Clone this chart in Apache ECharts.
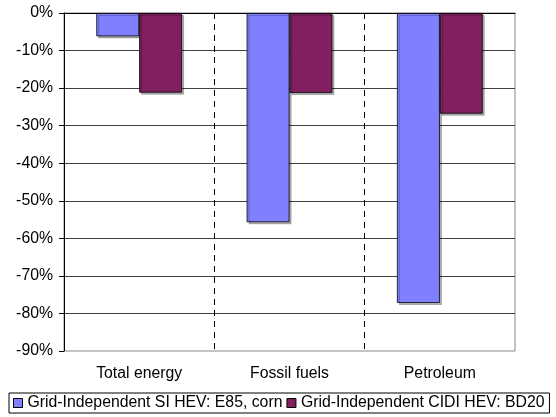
<!DOCTYPE html>
<html>
<head>
<meta charset="utf-8">
<script src="https://cdn.jsdelivr.net/npm/echarts@6/dist/echarts.min.js"></script>
<style>
  html, body { margin: 0; padding: 0; background: #fff; }
  #chart { width: 556px; height: 417px; }
</style>
</head>
<body>
<div id="chart"></div>
<script>
// Change in energy use relative to the baseline vehicle, in percent
const categories = ['Total energy', 'Fossil fuels', 'Petroleum'];
const siHevE85Corn = [-6.2, -55.7, -77.2];
const cidiHevBd20 = [-21.2, -21.3, -26.8];
const seriesNames = ['Grid-Independent SI HEV: E85, corn', 'Grid-Independent CIDI HEV: BD20'];
const yMin = -90, yMax = 0, yStep = 10;

const FONT = 'Liberation Sans, Arial, sans-serif';
const FS = 15.8;
const barShadow = {
  borderColor: '#000', borderWidth: 0.8,
  shadowColor: 'rgba(0,0,0,0.3)', shadowOffsetX: 2, shadowOffsetY: 2, shadowBlur: 0
};

const chart = echarts.init(document.getElementById('chart'), null, { renderer: 'canvas' });
chart.setOption({
  animation: false,
  backgroundColor: '#fff',
  grid: {
    left: 64, right: 41, top: 13, bottom: 66,
    show: true, borderColor: '#888', borderWidth: 1, backgroundColor: 'transparent'
  },
  legend: {
    left: 9, top: 393,
    orient: 'horizontal',
    data: seriesNames,
    icon: 'rect',
    itemWidth: 9, itemHeight: 9, itemGap: 4,
    padding: [2, 5, 2, 4],
    borderColor: '#000', borderWidth: 1,
    itemStyle: { borderColor: '#000', borderWidth: 1 },
    textStyle: { fontFamily: FONT, fontSize: FS, color: '#000' }
  },
  xAxis: [{
    type: 'category',
    data: categories,
    position: 'bottom',
    axisLine: { show: false, onZero: false },
    axisTick: { show: false },
    axisLabel: { fontFamily: FONT, fontSize: FS, color: '#000', margin: 15 },
    splitLine: {
      show: true, showMinLine: false, showMaxLine: false,
      lineStyle: { color: '#000', type: [6, 5], width: 1 }
    }
  }, {
    type: 'category',
    data: categories,
    position: 'top',
    axisLine: { show: true, onZero: false, lineStyle: { color: '#000', width: 1 } },
    axisTick: { show: false },
    axisLabel: { show: false },
    splitLine: { show: false }
  }],
  yAxis: {
    type: 'value',
    min: yMin, max: yMax, interval: yStep,
    axisLine: { show: true, lineStyle: { color: '#000', width: 1 } },
    axisTick: { show: true, inside: false, length: 5, lineStyle: { color: '#000' } },
    axisLabel: {
      fontFamily: FONT, fontSize: FS, color: '#000', margin: 11,
      formatter: v => v + '%'
    },
    splitLine: {
      show: true, showMinLine: false, showMaxLine: false,
      lineStyle: { color: '#404040', width: 1 }
    }
  },
  series: [{
    name: seriesNames[0],
    type: 'bar',
    data: siHevE85Corn,
    barGap: '0%',
    barCategoryGap: '43%',
    itemStyle: Object.assign({ color: '#8080FF' }, barShadow)
  }, {
    name: seriesNames[1],
    type: 'bar',
    data: cidiHevBd20,
    barGap: '0%',
    barCategoryGap: '43%',
    itemStyle: Object.assign({ color: '#802060' }, barShadow)
  }]
});
</script>
</body>
</html>
